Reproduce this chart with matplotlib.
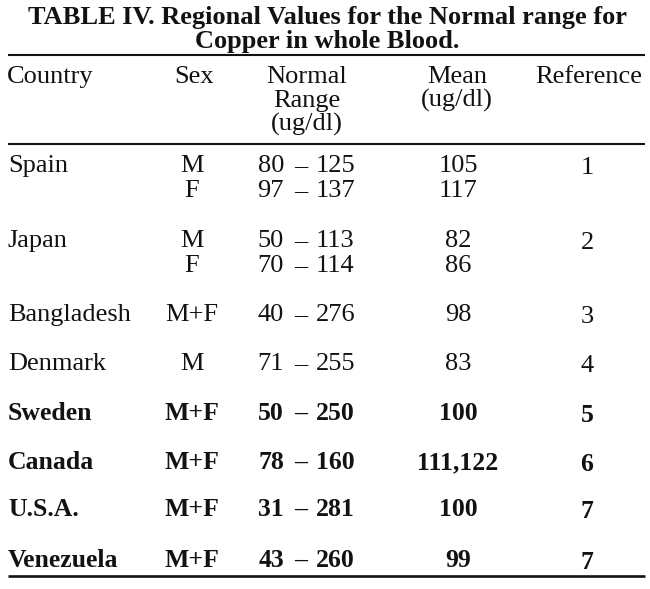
import matplotlib.pyplot as plt

# table contents
countries = ["Spain", "Japan", "Bangladesh", "Denmark", "Sweden", "Canada", "U.S.A.", "Venezuela"]
sexes = [["M", "F"], ["M", "F"], ["M+F"], ["M"], ["M+F"], ["M+F"], ["M+F"], ["M+F"]]
range_lo = [[80, 97], [50, 70], [40], [71], [50], [78], [31], [43]]
range_hi = [[125, 137], [113, 114], [276], [255], [250], [160], [281], [260]]
means = [["105", "117"], ["82", "86"], ["98"], ["83"], ["100"], ["111,122"], ["100"], ["99"]]
refs = ["1", "2", "3", "4", "5", "6", "7", "7"]

title1 = "TABLE IV. Regional Values for the Normal range for"
title2 = "Copper in whole Blood."

W, H = 650, 589
fig = plt.figure(figsize=(W / 100, H / 100), dpi=100)
ax = fig.add_axes([0, 0, 1, 1])
ax.set_xlim(0, W)
ax.set_ylim(H, 0)
ax.axis("off")

ink = "#141210"
font = "Liberation Serif"
fs = 19

def put(x, y, s, ha="left", size=fs, weight="normal"):
    ax.text(x, y, s, ha=ha, va="baseline", fontsize=size, fontweight=weight,
            family=font, color=ink)

# title
put(327, 24, title1, ha="center", weight="bold")
put(327, 48, title2, ha="center", weight="bold")

# rules
for y, lw in [(55, 1.5), (144, 1.5), (576, 1.9)]:
    ax.plot([8, 645], [y, y], color=ink, lw=lw, solid_capstyle="butt")

# header
put(7, 83, "Country")
put(194, 83, "Sex", ha="center")
put(307, 83, "Normal", ha="center")
put(307, 107, "Range", ha="center")
put(307, 131, "(ug/dl)", ha="center")
put(457, 83, "Mean", ha="center")
put(457, 107, "(ug/dl)", ha="center")
put(589, 83, "Reference", ha="center")

# rows
row_base = [172, 247, 321, 370, 420, 469, 516, 567]
sub = 25
for i, c in enumerate(countries):
    y0 = row_base[i]
    wt = "bold" if i >= 4 else "normal"
    size = 18.5 if i >= 4 else fs
    put(8, y0, c, size=size, weight=wt)
    for j in range(len(sexes[i])):
        y = y0 + j * sub
        put(192, y, sexes[i][j], ha="center", size=size, weight=wt)
        put(284, y, str(range_lo[i][j]), ha="right", size=size, weight=wt)
        put(301, y, "\u2013", ha="center", size=size, weight=wt)
        put(316, y, str(range_hi[i][j]), ha="left", size=size, weight=wt)
        put(458, y, means[i][j], ha="center", size=size, weight=wt)
    put(587, y0 + 2, refs[i], ha="center", size=size, weight=wt)

fig.savefig("out.png", dpi=100, facecolor="white")
